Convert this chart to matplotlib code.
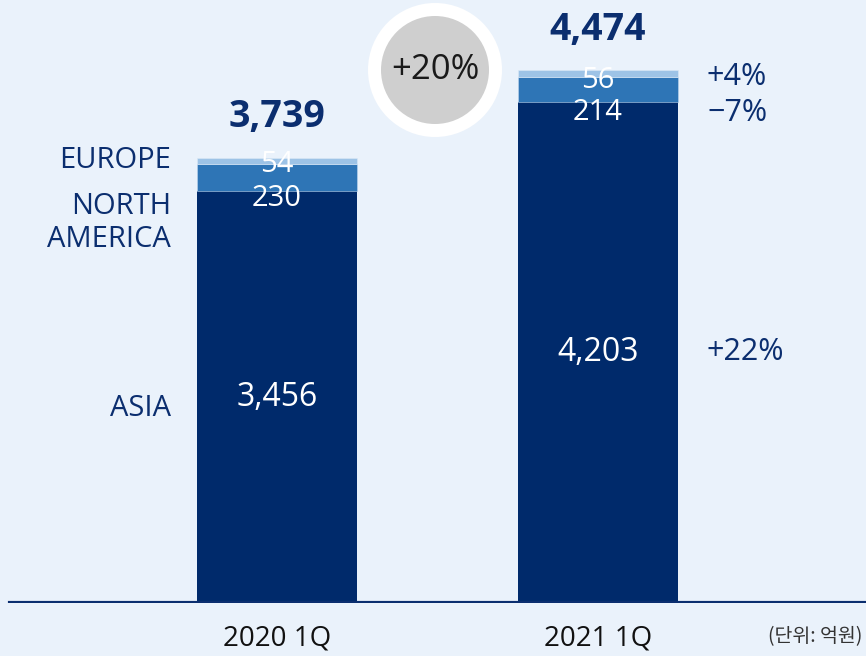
import matplotlib.pyplot as plt
import matplotlib.patches as mpatches
import matplotlib.transforms as mtransforms

# ── DATA ─────────────────────────────────────────────────────────────────────
periods  = ['2020 1Q', '2021 1Q']
asia     = [3456, 4203]
n_amer   = [230, 214]
europe   = [54, 56]
totals   = [3739, 4474]
growth   = ['+4%', '\u22127%', '+22%']   # europe, north america, asia (2021 vs 2020)
total_growth = '+20%'
regions  = ['EUROPE', 'NORTH\nAMERICA', 'ASIA']
unit_txt = '(단위: 억원)'

# ── THEME ────────────────────────────────────────────────────────────────────
BG     = '#EAF2FB'
NAVY   = '#002A6B'
MID    = '#2E75B6'
LIGHT  = '#9DC3E6'
TXT    = '#0B2E6F'
FONT   = 'Open Sans'

W, H = 866, 656
fig = plt.figure(figsize=(W / 100, H / 100), dpi=100)
fig.patch.set_facecolor(BG)


def px(x, y):
    return x / W, 1 - y / H


# axes: bottom at pixel row 603, full width
ax = fig.add_axes([0, 53 / H, 1, 603 / H])
ax.set_facecolor('none')
ax.set_xlim(-277 / 321, (W - 277) / 321)
ax.set_ylim(0, 5063)
ax.axis('off')

x = [0, 1]
bw = 160 / 321
ax.bar(x, asia, width=bw, color=NAVY, zorder=2)
ax.bar(x, n_amer, width=bw, bottom=asia, color=MID, zorder=2,
       edgecolor='#BFD6EE', linewidth=0.4)
bottoms_eu = [a + n for a, n in zip(asia, n_amer)]
ax.bar(x, europe, width=bw, bottom=bottoms_eu, color=LIGHT, zorder=2,
       edgecolor='#DCE9F6', linewidth=0.4)

# baseline
ax.axhline(0, xmin=10 / W, xmax=1, color=TXT, lw=3, zorder=3)

# totals above bars
for xi, t in zip(x, totals):
    ax.annotate(f'{t:,}', xy=(xi, t), xytext=(0, 29), textcoords='offset points',
                ha='center', va='center', fontsize=27, fontweight='bold',
                color=TXT, family=FONT)

# asia values inside bars
for xi, a in zip(x, asia):
    ax.text(xi, a / 2, f'{a:,}', ha='center', va='center', color='white',
            fontsize=23, family=FONT, zorder=4)

# small segment labels (placed as in the reference)
small_pos = {0: (164, 199), 1: (80, 113)}
centers = [277, 598]
for i in range(2):
    ye, yn = small_pos[i]
    fig.text(*px(centers[i], ye), f'{europe[i]}', ha='center', va='center',
             color='white', fontsize=21, family=FONT, zorder=5)
    fig.text(*px(centers[i], yn), f'{n_amer[i]}', ha='center', va='center',
             color='white', fontsize=21, family=FONT, zorder=5)

# region labels on the left
fig.text(*px(171, 160), regions[0], ha='right', va='center', color=TXT,
         fontsize=21, family=FONT)
fig.text(*px(171, 223), regions[1], ha='right', va='center', color=TXT,
         fontsize=21, family=FONT, linespacing=1.15)
fig.text(*px(171, 408), regions[2], ha='right', va='center', color=TXT,
         fontsize=21, family=FONT)

# growth labels on the right
for g, yy in zip(growth, [77, 113, 352]):
    fig.text(*px(707, yy), g, ha='left', va='center', color=TXT,
             fontsize=22, family=FONT)

# circle with total growth
tr = mtransforms.Affine2D().scale(0.01, -0.01).translate(0, H / 100) + fig.dpi_scale_trans
fig.add_artist(mpatches.Circle((435, 70), 67, transform=tr, facecolor='white',
                               edgecolor='none', zorder=1))
fig.add_artist(mpatches.Circle((435, 70), 54, transform=tr, facecolor='#CFCFCF',
                               edgecolor='none', zorder=2))
fig.text(*px(435, 70), total_growth, ha='center', va='center', color='#1A1A1A',
         fontsize=25, family=FONT, zorder=3)

# period labels
for c, p in zip(centers, periods):
    fig.text(*px(c, 638), p, ha='center', va='center', color='#111111',
             fontsize=20, family=FONT)

fig.text(*px(862, 637), unit_txt, ha='right', va='center', color='#333333',
         fontsize=14, family=['Noto Sans CJK KR', 'DejaVu Sans'])

fig.savefig('out.png', dpi=100, facecolor=BG)
